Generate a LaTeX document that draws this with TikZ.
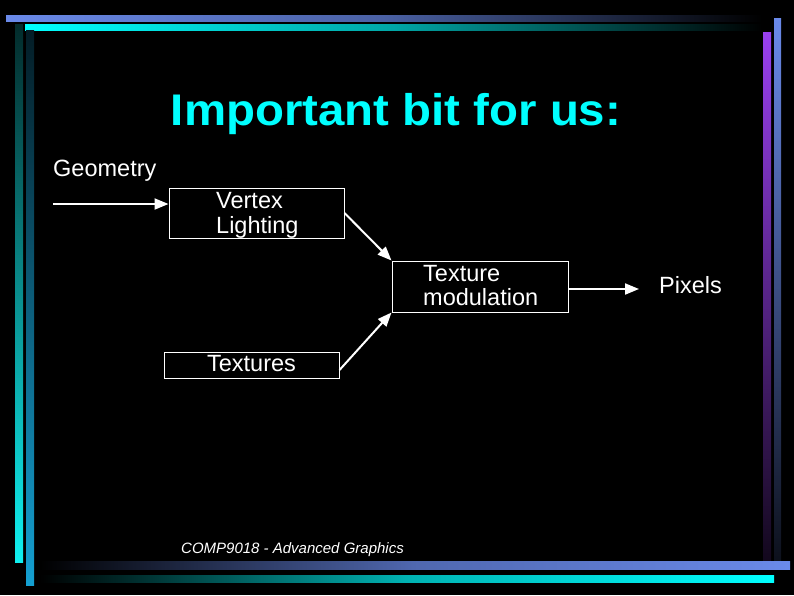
\documentclass[tikz,border=0pt]{standalone}
\usepackage{fontspec}
\setmainfont{Liberation Sans}
\usetikzlibrary{arrows.meta,calc}
\definecolor{lav}{HTML}{6A8AEA}
\definecolor{cyn}{HTML}{00FFFF}
\definecolor{purp}{HTML}{9A40F0}
\definecolor{lblue}{HTML}{14A0D2}
\definecolor{lcyan}{HTML}{10F0F0}
\begin{document}
\begin{tikzpicture}[x=1pt,y=-1pt,
  box/.style={draw=white,line width=1pt,inner sep=0pt},
  conn/.style={draw=white,line width=2pt,-{Triangle[length=14pt,width=11pt]}},
  lbl/.style={text=white,font=\fontsize{23.5}{25}\selectfont,inner sep=0pt,align=left},
  bar/.style={draw=none}]
\useasboundingbox (0,0) rectangle (794,595);
\fill[black] (0,0) rectangle (794,595);
% decorative bars
\shade[bar,left color=lav,right color=black,middle color=lav!70!black] (6,15) rectangle (762,21);
\shade[bar,left color=cyn,right color=black,middle color=cyn!65!black] (25,24) rectangle (762,30);
\shade[bar,top color=lcyan!18!black,bottom color=lcyan] (15,24) rectangle (23,562);
\shade[bar,top color=lblue!18!black,bottom color=lblue] (26,30) rectangle (34,585);
\shade[bar,top color=purp,bottom color=purp!12!black] (763,32) rectangle (771,560);
\shade[bar,top color=lav,bottom color=lav!12!black] (774,18) rectangle (781,560);
\shade[bar,left color=black,right color=lav,middle color=lav!75!black] (40,561) rectangle (790,569);
\shade[bar,left color=black,right color=cyn,middle color=cyn!70!black] (40,575) rectangle (774,582);
% title
\node[anchor=base,text=cyn,inner sep=0pt,font=\fontsize{44.3}{50}\selectfont\bfseries] (title) at (396,125) {\scalebox{1.07}[1]{Important bit for us:}};
% boxes
\node[box,minimum width=175pt,minimum height=50pt] (vl) at (256.5,213) {};
\node[box,minimum width=176pt,minimum height=51pt] (tm) at (480,286.5) {};
\node[box,minimum width=175pt,minimum height=26pt] (tx) at (251.5,365) {};
% texts
\node[lbl,anchor=base west] (geo) at (53,176) {Geometry};
\node[lbl,anchor=base west] (vlt) at (216,233) {Vertex\\Lighting};
\node[lbl,anchor=base west,font=\fontsize{23.5}{23.5}\selectfont] (tmt) at (423,305) {Texture\\modulation};
\node[lbl,anchor=base] (txt) at (251.5,371.5) {Textures};
\node[lbl,anchor=base west] (pix) at (659,293) {Pixels};
\node[anchor=base west,text=white,inner sep=0pt,font=\fontsize{15}{17}\selectfont\itshape] (foot) at (181,553) {COMP9018 - Advanced Graphics};
% connectors
\coordinate (g0) at (53,204);
\coordinate (p0) at (639,289);
\draw[conn] (g0) -- (g0 -| vl.west);
\draw[conn] (vl.east) -- (tm.north west);
\draw[conn] ($(tx.east)+(0,5)$) -- (tm.south west);
\draw[conn] (tm.east |- p0) -- (p0);
\end{tikzpicture}
\end{document}
